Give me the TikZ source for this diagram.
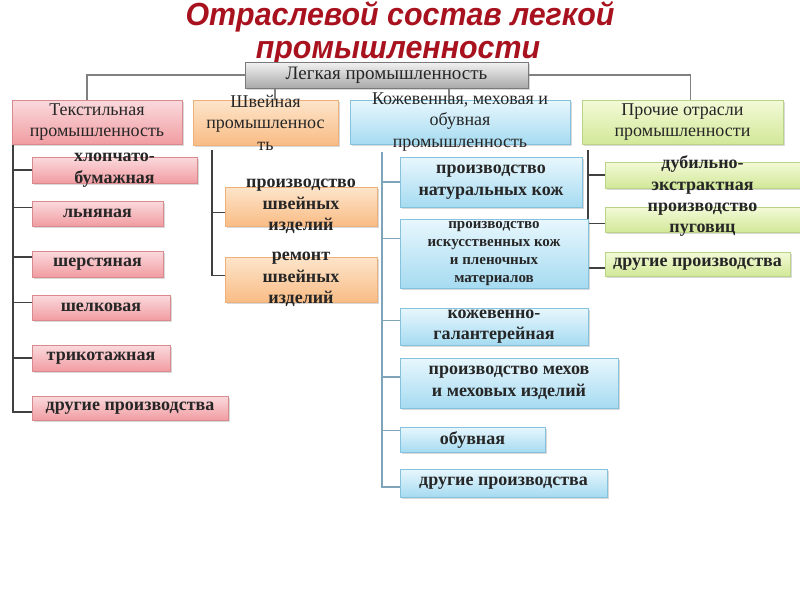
\documentclass[tikz,border=0pt]{standalone}
\usepackage{fontspec}
\setmainfont{Liberation Serif}
\newfontfamily\titlefont[FakeStretch=0.95]{Liberation Sans}
\usetikzlibrary{shadows,backgrounds}
\definecolor{textc}{HTML}{262626}
\definecolor{titlec}{RGB}{168,18,30}
\definecolor{pinkT}{HTML}{FADADD}
\definecolor{pinkB}{HTML}{F19DA2}
\definecolor{pinkD}{HTML}{D98A8F}
\definecolor{orT}{HTML}{FDE5CB}
\definecolor{orB}{HTML}{F9BC85}
\definecolor{orD}{HTML}{EEB07A}
\definecolor{blT}{HTML}{E8F7FD}
\definecolor{blB}{HTML}{A6DBF1}
\definecolor{blD}{HTML}{84C2DD}
\definecolor{grT}{HTML}{F3FAD8}
\definecolor{grB}{HTML}{D2E898}
\definecolor{grD}{HTML}{B9D488}
\definecolor{gyT}{HTML}{F2F2F2}
\definecolor{gyB}{HTML}{A9A9A9}
\definecolor{gyD}{HTML}{7A7A7A}
\definecolor{lnD}{HTML}{404040}
\definecolor{lnG}{HTML}{808080}
\definecolor{lnB}{HTML}{7FA3B8}
\tikzset{
  basebox/.style={rectangle, inner sep=0pt, outer sep=0pt, line width=0.8pt,
    drop shadow={shadow xshift=1.5pt, shadow yshift=-1.5pt, opacity=0.3}},
  pinkbox/.style={basebox, draw=pinkD, top color=pinkT, bottom color=pinkB},
  orbox/.style={basebox, draw=orD, top color=orT, bottom color=orB},
  blbox/.style={basebox, draw=blD, top color=blT, bottom color=blB},
  grbox/.style={basebox, draw=grD, top color=grT, bottom color=grB},
  gybox/.style={basebox, draw=gyD, top color=gyT, bottom color=gyB},
  subtxt/.style={align=center, inner sep=0pt, text=textc, font=\fontsize{18}{21.5}\selectfont\bfseries},
  smalltxt/.style={align=center, inner sep=0pt, text=textc, font=\fontsize{15}{18}\selectfont\bfseries},
  cattxt/.style={align=center, inner sep=0pt, text=textc, font=\fontsize{18}{21.5}\selectfont},
  toptxt/.style={align=center, inner sep=0pt, text=textc, font=\fontsize{19}{22}\selectfont},
  ttl/.style={inner sep=0pt, text=titlec, font=\titlefont\bfseries\itshape\fontsize{32}{36}\selectfont},
  lineD/.style={draw=lnD, line width=1.1pt},
  lineG/.style={draw=lnG, line width=1.1pt},
  lineB/.style={draw=lnB, line width=1.1pt},
}
% #1 name, #2 box style, #3 text style, #4 x1, #5 y1, #6 x2, #7 y2, #8 text
\newcommand\mybox[8]{%
  \node[#2, minimum width={(#6-#4)*1pt}, minimum height={(#7-#5)*1pt}] (#1) at ({(#4+#6)/2},{(#5+#7)/2}) {};
  \node[#3] (#1t) at (#1.center) {#8};}
\begin{document}
\begin{tikzpicture}[x=1pt,y=-1pt]
\useasboundingbox (0,0) rectangle (800,600);
% title
\node[ttl, anchor=base] (title1) at (400,25.5) {Отраслевой состав легкой};
\node[ttl, anchor=base] (title2) at (398,58) {промышленности};
% top
\mybox{top}{gybox}{toptxt}{245}{62}{528}{88}{Легкая промышленность}
% categories
\mybox{tex}{pinkbox}{cattxt}{12}{100}{182}{144}{Текстильная\\промышленность}
\mybox{sew}{orbox}{cattxt}{193}{100}{338}{145}{Швейная\\промышленнос\\ть}
\mybox{lea}{blbox}{cattxt}{350}{100}{570}{144}{Кожевенная, меховая и\\обувная\\промышленность}
\mybox{pro}{grbox}{cattxt}{582}{100}{783}{144}{Прочие отрасли\\промышленности}
% textile column
\mybox{ta}{pinkbox}{subtxt}{32}{157}{197}{183}{хлопчато-\\бумажная}
\mybox{tb}{pinkbox}{subtxt}{32}{201}{163}{226}{льняная}
\mybox{tc}{pinkbox}{subtxt}{32}{251}{163}{277}{шерстяная}
\mybox{td}{pinkbox}{subtxt}{32}{295}{170}{320}{шелковая}
\mybox{te}{pinkbox}{subtxt}{32}{345}{170}{371}{трикотажная}
\mybox{tf}{pinkbox}{subtxt}{32}{396}{228}{420}{другие производства}
% sewing column
\mybox{sa}{orbox}{subtxt}{225}{187}{377}{226}{производство\\швейных\\изделий}
\mybox{sb}{orbox}{subtxt}{225}{257}{377}{302}{ремонт\\швейных\\изделий}
% leather column
\mybox{la}{blbox}{subtxt}{400}{157}{582}{207}{производство\\натуральных кож}
\mybox{lb}{blbox}{smalltxt}{400}{219}{588}{288}{производство\\искусственных кож\\и пленочных\\материалов}
\mybox{lc}{blbox}{subtxt}{400}{308}{588}{345}{кожевенно-\\галантерейная}
\mybox{ld}{blbox}{subtxt}{400}{358}{618}{408}{производство мехов\\и меховых изделий}
\mybox{le}{blbox}{subtxt}{400}{427}{545}{452}{обувная}
\mybox{lf}{blbox}{subtxt}{400}{469}{607}{497}{другие производства}
% other column
\mybox{pa}{grbox}{subtxt}{605}{162}{800}{188}{дубильно-\\экстрактная}
\mybox{pb}{grbox}{subtxt}{605}{207}{800}{232}{производство\\пуговиц}
\mybox{pc}{grbox}{subtxt}{605}{252}{790}{276}{другие производства}
% connectors
\coordinate (v1) at (13,144);
\coordinate (v2) at (212,150);
\coordinate (v3) at (382,152);
\coordinate (v4) at (588,150);
\coordinate (s1) at (275,100);
\coordinate (s2) at (449,100);
\begin{scope}[on background layer]
  \draw[lineG] (top.west) -| ([xshift=-10pt]tex.north);
  \draw[lineG] (top.east) -| ([xshift=8pt]pro.north);
  \draw[lineG] (s1) -- (s1 |- top.south);
  \draw[lineG] (s2) -- (s2 |- top.south);
  \draw[lineD] (v1) |- (ta.west);
  \draw[lineD] (v1) |- ([yshift=6pt]tb.west);
  \draw[lineD] (v1) |- ([yshift=7pt]tc.west);
  \draw[lineD] (v1) |- ([yshift=5pt]td.west);
  \draw[lineD] (v1) |- (te.west);
  \draw[lineD] (v1) |- ([yshift=-4pt]tf.west);
  \draw[lineD] (v2) |- ([yshift=-6pt]sa.west);
  \draw[lineD] (v2) |- ([yshift=4pt]sb.west);
  \draw[lineB] (v3) |- (la.west);
  \draw[lineB] (v3) |- ([yshift=15pt]lb.west);
  \draw[lineB] (v3) |- ([yshift=6pt]lc.west);
  \draw[lineB] (v3) |- ([yshift=6pt]ld.west);
  \draw[lineB] (v3) |- ([yshift=9pt]le.west);
  \draw[lineB] (v3) |- ([yshift=-4pt]lf.west);
  \draw[lineD] (v4) |- (pa.west);
  \draw[lineD] (v4) |- ([yshift=-4pt]pb.west);
  \draw[lineD] (v4) |- ([yshift=-4pt]pc.west);
\end{scope}
\end{tikzpicture}
\end{document}
